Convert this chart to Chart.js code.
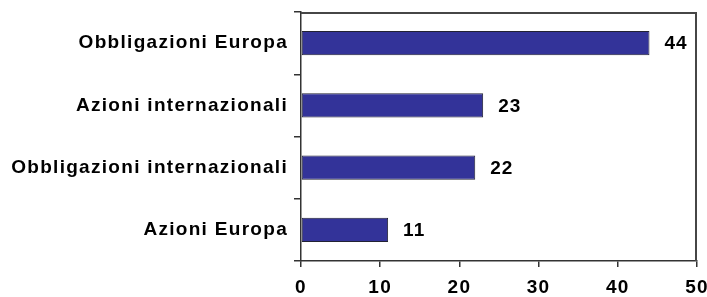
<!DOCTYPE html>
<html>
<head>
<meta charset="utf-8">
<script src="https://cdn.jsdelivr.net/npm/chart.js@4/dist/chart.umd.min.js"></script>
<style>
  html, body { margin: 0; padding: 0; background: #fff; }
  #wrap { width: 707px; height: 297px; }
</style>
</head>
<body>
<div id="wrap"><canvas id="chart"></canvas></div>
<script>
// data
const categories = ["Obbligazioni Europa", "Azioni internazionali", "Obbligazioni internazionali", "Azioni Europa"];
const values = [44, 23, 22, 11];
const xTicks = [0, 10, 20, 30, 40, 50];

const FONT = "'Liberation Sans', Arial, sans-serif";

// letter spacing to match the wide text of the original
const spacing = {
  id: "spacing",
  beforeDraw(chart) { chart.ctx.letterSpacing = "1.3px"; }
};

// value labels at the end of each bar
const valueLabels = {
  id: "valueLabels",
  afterDatasetsDraw(chart) {
    const ctx = chart.ctx;
    const meta = chart.getDatasetMeta(0);
    ctx.save();
    ctx.letterSpacing = "1px";
    ctx.font = "bold 19px " + FONT;
    ctx.fillStyle = "#000";
    ctx.textAlign = "left";
    ctx.textBaseline = "middle";
    meta.data.forEach((bar, i) => {
      ctx.fillText(String(values[i]), bar.x + 15, bar.y + 1);
    });
    ctx.restore();
  }
};

// top and right frame, filled as thin rects inside the chart area
const frame = {
  id: "frame",
  afterDraw(chart) {
    const ctx = chart.ctx;
    const a = chart.chartArea;
    ctx.save();
    ctx.fillStyle = "rgb(70,70,70)";
    ctx.fillRect(a.left, a.top, a.right - a.left, 2);
    ctx.fillRect(a.right - 2, a.top, 2, a.bottom - a.top);
    ctx.restore();
  }
};

new Chart(document.getElementById("chart"), {
  type: "bar",
  data: {
    labels: categories,
    datasets: [{
      data: values,
      backgroundColor: "#333399",
      borderColor: "#222233",
      borderWidth: 1,
      borderSkipped: false,
      categoryPercentage: 1,
      barPercentage: 0.39
    }]
  },
  options: {
    indexAxis: "y",
    responsive: true,
    maintainAspectRatio: false,
    animation: false,
    layout: { padding: { top: 12, right: 10, left: 0, bottom: 0 } },
    plugins: { legend: { display: false }, tooltip: { enabled: false } },
    scales: {
      x: {
        min: 0,
        max: 50,
        afterBuildTicks(scale) { scale.ticks = xTicks.map(v => ({ value: v })); },
        border: { color: "#333", width: 1.5 },
        grid: { drawOnChartArea: false, tickLength: 6, color: "#333", lineWidth: 1.5 },
        ticks: { font: { family: FONT, size: 19, weight: "bold" }, color: "#000", padding: 9 },
        afterFit(scale) {
          scale.height = 36;
          scale.paddingLeft = 0;
          scale.paddingRight = 0;
        }
      },
      y: {
        border: { color: "#333", width: 1.5 },
        grid: { offset: true, drawOnChartArea: false, tickLength: 7, color: "#333", lineWidth: 1.5 },
        ticks: { font: { family: FONT, size: 19, weight: "bold" }, color: "#000", padding: 6 },
        afterFit(scale) {
          scale.width = 301;
          scale.paddingTop = 0;
          scale.paddingBottom = 0;
        }
      }
    }
  },
  plugins: [spacing, valueLabels, frame]
});
</script>
</body>
</html>
